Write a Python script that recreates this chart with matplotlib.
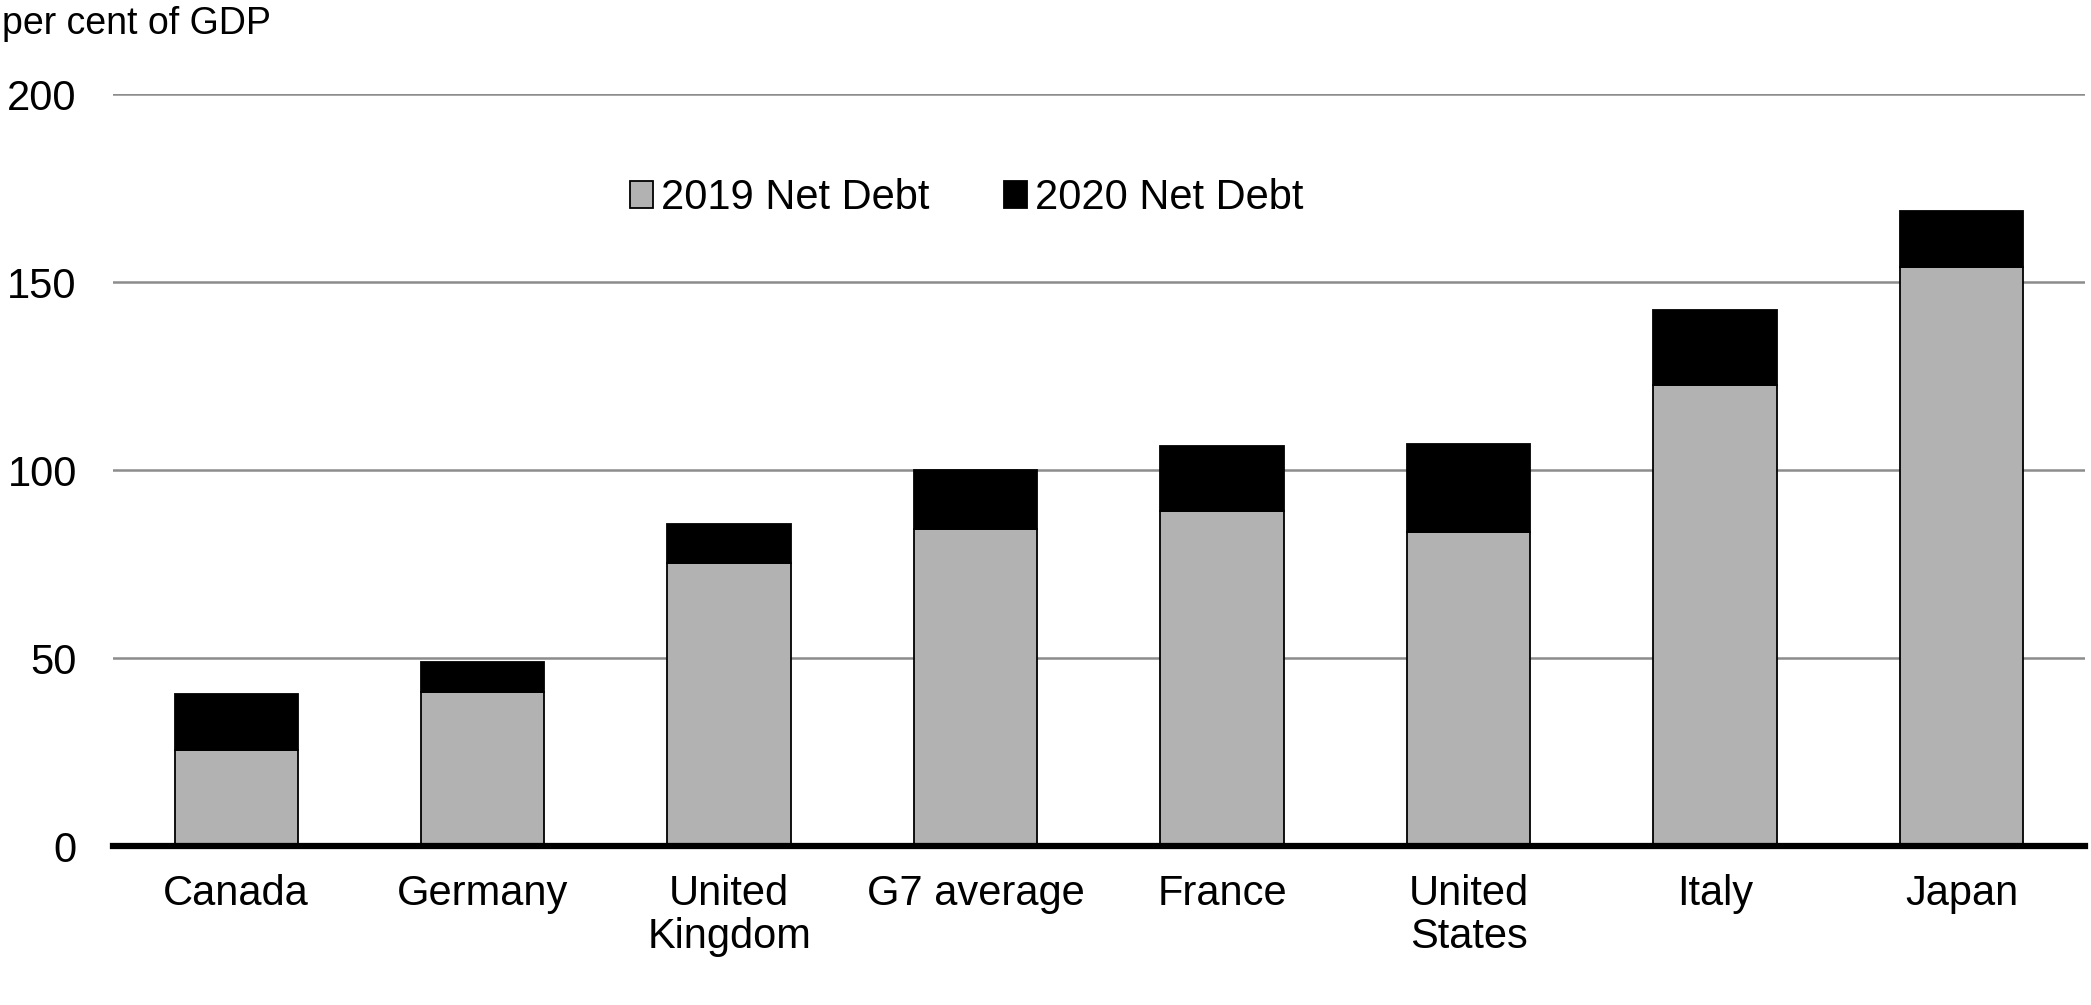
import matplotlib
matplotlib.use("Agg")
import matplotlib.pyplot as plt
import numpy as np

plt.rcParams["font.family"] = ["Liberation Sans", "DejaVu Sans"]

countries = ["Canada", "Germany", "United\nKingdom", "G7 average", "France",
             "United\nStates", "Italy", "Japan"]
net_debt_2019 = [25.5, 41.0, 75.3, 84.3, 89.3, 83.6, 122.7, 154.2]
net_debt_2020 = [40.6, 49.1, 85.8, 100.1, 106.6, 106.9, 142.6, 168.9]

increase = [b - a for a, b in zip(net_debt_2019, net_debt_2020)]

fig = plt.figure(figsize=(20.91, 10.05), dpi=100)
ax = fig.add_axes([0.054, 0.158, 0.943, 0.748])

x = np.arange(len(countries))
ax.bar(x, net_debt_2019, width=0.5, color="#b2b2b2", edgecolor="black",
       linewidth=1.3, label="2019 Net Debt", zorder=3)
ax.bar(x, increase, width=0.5, bottom=net_debt_2019, color="black",
       edgecolor="black", linewidth=1.3, label="2020 Net Debt", zorder=3)

ax.set_xlim(-0.5, len(countries) - 0.5)
ax.set_ylim(0, 200)
ax.set_yticks([0, 50, 100, 150, 200])
ax.yaxis.grid(True, color="#8c8c8c", linewidth=1.8, zorder=0)
ax.axhline(0, color="black", linewidth=4.5, zorder=4, clip_on=False)

for s in ax.spines.values():
    s.set_visible(False)

ax.set_xticks(x)
ax.set_xticklabels(countries, fontsize=30, linespacing=1.1)
ax.tick_params(axis="x", length=0, pad=20)
ax.tick_params(axis="y", length=0, pad=26, labelsize=30)

ax.legend(loc="center", bbox_to_anchor=(0.433, 0.862), ncol=2, frameon=False,
          fontsize=30, handlelength=0.55, handleheight=0.6, handletextpad=0.2,
          columnspacing=1.8)

fig.text(0.001, 0.976, "per cent of GDP", fontsize=27, ha="left", va="center")

fig.savefig("out.png", dpi=100)
plt.close(fig)
